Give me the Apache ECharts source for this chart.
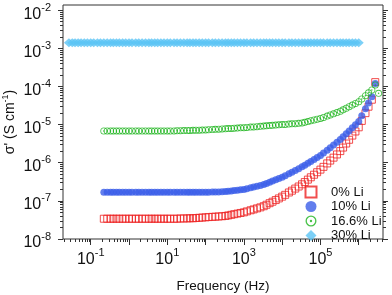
<!DOCTYPE html>
<html><head><meta charset="utf-8">
<script src="https://cdn.jsdelivr.net/npm/echarts@6/dist/echarts.min.js"></script>
<style>html,body{margin:0;padding:0;background:#fff}#c{width:392px;height:295px}</style>
</head><body><div id="c"></div>
<script>
// ---- data ----
const seriesNames = ['0% Li', '10% Li', '16.6% Li', '30% Li'];

const freqA = [0.22,0.27,0.33,0.39,0.47,0.56,0.68,0.82,
 1,1.2,1.5,1.8,2.2,2.7,3.3,3.9,4.7,5.6,6.8,8.2,
 10,12,15,18,22,27,33,39,47,56,68,82,
 100,120,150,180,220,270,330,390,470,560,680,820,
 1000,1200,1500,1800,2200,2700,3300,3900,4700,5600,6800,8200,
 1e4,1.2e4,1.5e4,1.8e4,2.2e4,2.7e4,3.3e4,3.9e4,4.7e4,5.6e4,6.8e4,8.2e4,
 1e5,1.2e5,1.5e5,1.8e5,2.2e5,2.7e5,3.3e5,3.9e5,4.7e5,5.6e5,6.8e5,8.2e5,
 1e6,1.2e6,1.5e6,1.8e6,2.2e6,2.7e6,3.3e6];

const li0 = [3.4e-8,3.4e-8,3.4e-8,3.4e-8,3.4e-8,3.4e-8,3.4e-8,3.4e-8,
 3.4e-8,3.4e-8,3.4e-8,3.4e-8,3.4e-8,3.4e-8,3.4e-8,3.4e-8,3.4e-8,3.4e-8,3.4e-8,3.4e-8,
 3.4e-8,3.4e-8,3.4e-8,3.4e-8,3.45e-8,3.45e-8,3.47e-8,3.5e-8,3.5e-8,3.55e-8,3.6e-8,3.65e-8,
 3.7e-8,3.76e-8,3.81e-8,3.85e-8,3.9e-8,3.95e-8,4.02e-8,4.15e-8,4.31e-8,4.47e-8,4.64e-8,4.82e-8,
 5.0e-8,5.3e-8,5.66e-8,5.97e-8,6.35e-8,6.75e-8,7.24e-8,7.9e-8,8.7e-8,9.5e-8,1.05e-7,1.16e-7,
 1.29e-7,1.44e-7,1.66e-7,1.85e-7,2.1e-7,2.38e-7,2.72e-7,3.11e-7,3.61e-7,4.15e-7,4.85e-7,5.64e-7,
 6.6e-7,7.8e-7,9.6e-7,1.14e-6,1.36e-6,1.65e-6,2.02e-6,2.5e-6,3.19e-6,4.0e-6,5.16e-6,6.6e-6,
 8.5e-6,1.25e-5,2.0e-5,2.95e-5,4.5e-5,1.3e-4];

const li10 = [1.68e-7,1.68e-7,1.68e-7,1.68e-7,1.68e-7,1.68e-7,1.68e-7,1.68e-7,
 1.68e-7,1.68e-7,1.68e-7,1.68e-7,1.68e-7,1.68e-7,1.68e-7,1.68e-7,1.68e-7,1.68e-7,1.68e-7,1.68e-7,
 1.68e-7,1.68e-7,1.68e-7,1.68e-7,1.68e-7,1.68e-7,1.68e-7,1.68e-7,1.68e-7,1.68e-7,1.68e-7,1.68e-7,
 1.68e-7,1.69e-7,1.7e-7,1.71e-7,1.72e-7,1.73e-7,1.75e-7,1.78e-7,1.82e-7,1.86e-7,1.9e-7,1.95e-7,
 2.0e-7,2.08e-7,2.2e-7,2.3e-7,2.41e-7,2.53e-7,2.68e-7,2.86e-7,3.08e-7,3.3e-7,3.57e-7,3.85e-7,
 4.17e-7,4.58e-7,5.15e-7,5.66e-7,6.28e-7,6.98e-7,7.8e-7,8.63e-7,9.7e-7,1.08e-6,1.22e-6,1.37e-6,
 1.55e-6,1.79e-6,2.14e-6,2.48e-6,2.91e-6,3.43e-6,4.06e-6,4.78e-6,5.74e-6,6.81e-6,8.24e-6,9.9e-6,
 1.2e-5,1.7e-5,2.6e-5,3.69e-5,5.4e-5,1.2e-4];

const li166 = [6.8e-6,6.8e-6,6.8e-6,6.8e-6,6.8e-6,6.8e-6,6.8e-6,6.8e-6,
 6.8e-6,6.8e-6,6.8e-6,6.8e-6,6.8e-6,6.8e-6,6.8e-6,6.8e-6,6.8e-6,6.8e-6,6.8e-6,6.8e-6,
 6.8e-6,6.8e-6,6.84e-6,6.89e-6,6.92e-6,6.97e-6,7.0e-6,7.05e-6,7.08e-6,7.12e-6,7.16e-6,7.2e-6,
 7.24e-6,7.32e-6,7.43e-6,7.5e-6,7.6e-6,7.69e-6,7.78e-6,7.85e-6,7.94e-6,8.03e-6,8.13e-6,8.22e-6,
 8.32e-6,8.44e-6,8.59e-6,8.71e-6,8.85e-6,9.0e-6,9.16e-6,9.27e-6,9.42e-6,9.55e-6,9.7e-6,9.84e-6,
 1.0e-5,1.01e-5,1.03e-5,1.05e-5,1.06e-5,1.08e-5,1.11e-5,1.15e-5,1.2e-5,1.26e-5,1.32e-5,1.38e-5,
 1.45e-5,1.54e-5,1.67e-5,1.79e-5,1.92e-5,2.07e-5,2.24e-5,2.44e-5,2.69e-5,2.94e-5,3.26e-5,3.59e-5,
 3.98e-5,4.7e-5,5.75e-5,6.8e-5,8.1e-5,1.1e-4,6.6e-5];

const freqD = [0.027,0.033,0.039,0.047,0.056,0.068,0.082,
 0.1,0.12,0.15,0.18,0.22,0.27,0.33,0.39,0.47,0.56,0.68,0.82,
 1,1.2,1.5,1.8,2.2,2.7,3.3,3.9,4.7,5.6,6.8,8.2,
 10,12,15,18,22,27,33,39,47,56,68,82,
 100,120,150,180,220,270,330,390,470,560,680,820,
 1000,1200,1500,1800,2200,2700,3300,3900,4700,5600,6800,8200,
 1e4,1.2e4,1.5e4,1.8e4,2.2e4,2.7e4,3.3e4,3.9e4,4.7e4,5.6e4,6.8e4,8.2e4,
 1e5,1.2e5,1.5e5,1.8e5,2.2e5,2.7e5,3.3e5,3.9e5,4.7e5,5.6e5,6.8e5,8.2e5,
 1e6];

const li30 = [1.4e-3,1.4e-3,1.4e-3,1.4e-3,1.4e-3,1.4e-3,1.4e-3,
 1.4e-3,1.4e-3,1.4e-3,1.4e-3,1.4e-3,1.4e-3,1.4e-3,1.4e-3,1.4e-3,1.4e-3,1.4e-3,1.4e-3,
 1.4e-3,1.4e-3,1.4e-3,1.4e-3,1.4e-3,1.4e-3,1.4e-3,1.4e-3,1.4e-3,1.4e-3,1.4e-3,1.4e-3,
 1.4e-3,1.4e-3,1.4e-3,1.4e-3,1.4e-3,1.4e-3,1.4e-3,1.4e-3,1.4e-3,1.4e-3,1.4e-3,1.4e-3,
 1.4e-3,1.4e-3,1.4e-3,1.4e-3,1.4e-3,1.4e-3,1.4e-3,1.4e-3,1.4e-3,1.4e-3,1.4e-3,1.4e-3,
 1.4e-3,1.4e-3,1.4e-3,1.4e-3,1.4e-3,1.4e-3,1.4e-3,1.4e-3,1.4e-3,1.4e-3,1.4e-3,1.4e-3,
 1.4e-3,1.4e-3,1.4e-3,1.4e-3,1.4e-3,1.4e-3,1.4e-3,1.4e-3,1.4e-3,1.4e-3,1.4e-3,1.4e-3,
 1.4e-3,1.4e-3,1.4e-3,1.4e-3,1.4e-3,1.4e-3,1.4e-3,1.4e-3,1.4e-3,1.4e-3,1.4e-3,1.4e-3,
 1.4e-3];

const xTickLabels = [0.1, 10, 1000, 100000];
const xMajorTicks = [0.1, 1, 10, 100, 1000, 1e4, 1e5, 1e6];
const yTickLabels = [1e-8, 1e-7, 1e-6, 1e-5, 1e-4, 1e-3, 1e-2];
const xRange = [0.0189, 4.3e6];
const yRange = [1e-8, 0.0137];

// ---- helpers ----
function minorTicks(e0, e1, lo, hi) {
  const out = [];
  for (let e = e0; e <= e1; e++) for (let m = 2; m <= 9; m++) {
    const v = m * Math.pow(10, e);
    if (v >= lo && v <= hi) out.push(v);
  }
  return out;
}
const xMinorTicks = minorTicks(-2, 6, xRange[0], xRange[1]);
const yMinorTicks = minorTicks(-8, -2, yRange[0], yRange[1]);
function pairs(f, v) { return v.map((y, i) => [f[i], y]); }

const FONT = '"Liberation Sans", Arial, sans-serif';
const INK = '#111';
const AX = '#333';
const expRich = {
  b: {fontSize: 16, fontFamily: FONT, color: INK, lineHeight: 24, height: 16, verticalAlign: 'bottom'},
  s: {fontSize: 11, fontFamily: FONT, color: INK, lineHeight: 11, height: 19, verticalAlign: 'top'}
};
function expFmt(v) { const e = Math.round(Math.log10(v)); return '{b|10}{s|' + e + '}'; }

const gridBox = {left: 63, right: 9, top: 5, bottom: 56, containLabel: false, outerBoundsMode: 'none'};
const ringPath = 'path://M10,0A10,10,0,1,1,-10,0A10,10,0,1,1,10,0ZM7.6,0A7.6,7.6,0,1,0,-7.6,0A7.6,7.6,0,1,0,7.6,0ZM2.2,0A2.2,2.2,0,1,1,-2.2,0A2.2,2.2,0,1,1,2.2,0Z';

function logAxis(range, extra) {
  return Object.assign({type: 'log', logBase: 10, min: range[0], max: range[1],
    axisLine: {show: false}, splitLine: {show: false}, minorTick: {show: false},
    axisLabel: {show: false}, axisTick: {show: false}}, extra);
}

const option = {
  animation: false,
  backgroundColor: '#fff',
  grid: [
    Object.assign({show: true, borderColor: AX, borderWidth: 1, backgroundColor: 'rgba(0,0,0,0)'}, gridBox),
    Object.assign({show: false}, gridBox)
  ],
  xAxis: [
    logAxis(xRange, {gridIndex: 0, position: 'bottom',
      axisTick: {show: true, inside: false, length: 6, customValues: xMajorTicks, lineStyle: {color: AX, width: 1}},
      axisLabel: {show: true, customValues: xTickLabels, formatter: expFmt, rich: expRich, margin: 4.5},
      name: 'Frequency (Hz)', nameLocation: 'middle', nameGap: 40, nameMoveOverlap: false,
      nameTextStyle: {fontSize: 13.5, fontFamily: FONT, color: INK}}),
    logAxis(xRange, {gridIndex: 1, position: 'bottom',
      axisTick: {show: true, inside: false, length: 3, customValues: xMinorTicks, lineStyle: {color: AX, width: 1}}})
  ],
  yAxis: [
    logAxis(yRange, {gridIndex: 0, position: 'left',
      axisTick: {show: true, inside: false, length: 5, customValues: yTickLabels, lineStyle: {color: AX, width: 1}},
      axisLabel: {show: true, customValues: yTickLabels, formatter: expFmt, rich: expRich, margin: 12},
      name: "σ' (S cm{s|-1})", nameLocation: 'middle', nameGap: 44, nameMoveOverlap: false,
      nameTextStyle: {fontSize: 14, fontFamily: FONT, color: INK, lineHeight: 18,
        rich: {s: {fontSize: 9, fontFamily: FONT, color: INK, lineHeight: 9, verticalAlign: 'top'}}}}),
    logAxis(yRange, {gridIndex: 0, position: 'right',
      axisTick: {show: true, inside: false, length: 5, customValues: yTickLabels, lineStyle: {color: AX, width: 1}}}),
    logAxis(yRange, {gridIndex: 1, position: 'left',
      axisTick: {show: true, inside: false, length: 3, customValues: yMinorTicks, lineStyle: {color: AX, width: 1}}}),
    logAxis(yRange, {gridIndex: 1, position: 'right',
      axisTick: {show: true, inside: false, length: 3, customValues: yMinorTicks, lineStyle: {color: AX, width: 1}}})
  ],
  legend: {
    orient: 'vertical', left: 304.5, top: 185.5, padding: 0, itemWidth: 11, itemHeight: 11, itemGap: 1.5,
    selectedMode: false, data: seriesNames,
    textStyle: {fontSize: 13, lineHeight: 13, fontFamily: FONT, color: INK, padding: [0, 0, 0, 9.5]}
  },
  series: [
    {name: seriesNames[0], type: 'scatter', xAxisIndex: 0, yAxisIndex: 0, silent: true,
     symbol: 'rect', symbolSize: 7,
     itemStyle: {color: 'rgba(255,255,255,0)', borderColor: '#EE2222', borderWidth: 1},
     data: pairs(freqA, li0)},
    {name: seriesNames[1], type: 'scatter', xAxisIndex: 0, yAxisIndex: 0, silent: true,
     symbol: 'circle', symbolSize: 7, itemStyle: {color: '#3B5EE8'},
     data: pairs(freqA, li10)},
    {name: seriesNames[2], type: 'scatter', xAxisIndex: 0, yAxisIndex: 0, silent: true,
     symbol: ringPath, symbolSize: 7, itemStyle: {color: '#1DB41D'},
     data: pairs(freqA, li166)},
    {name: seriesNames[3], type: 'scatter', xAxisIndex: 0, yAxisIndex: 0, silent: true,
     symbol: 'diamond', symbolSize: [10, 9], itemStyle: {color: '#5BC4F5'},
     data: pairs(freqD, li30)}
  ]
};
const chart = echarts.init(document.getElementById('c'), null, {renderer: 'canvas'});
chart.setOption(option);
</script>
</body></html>
